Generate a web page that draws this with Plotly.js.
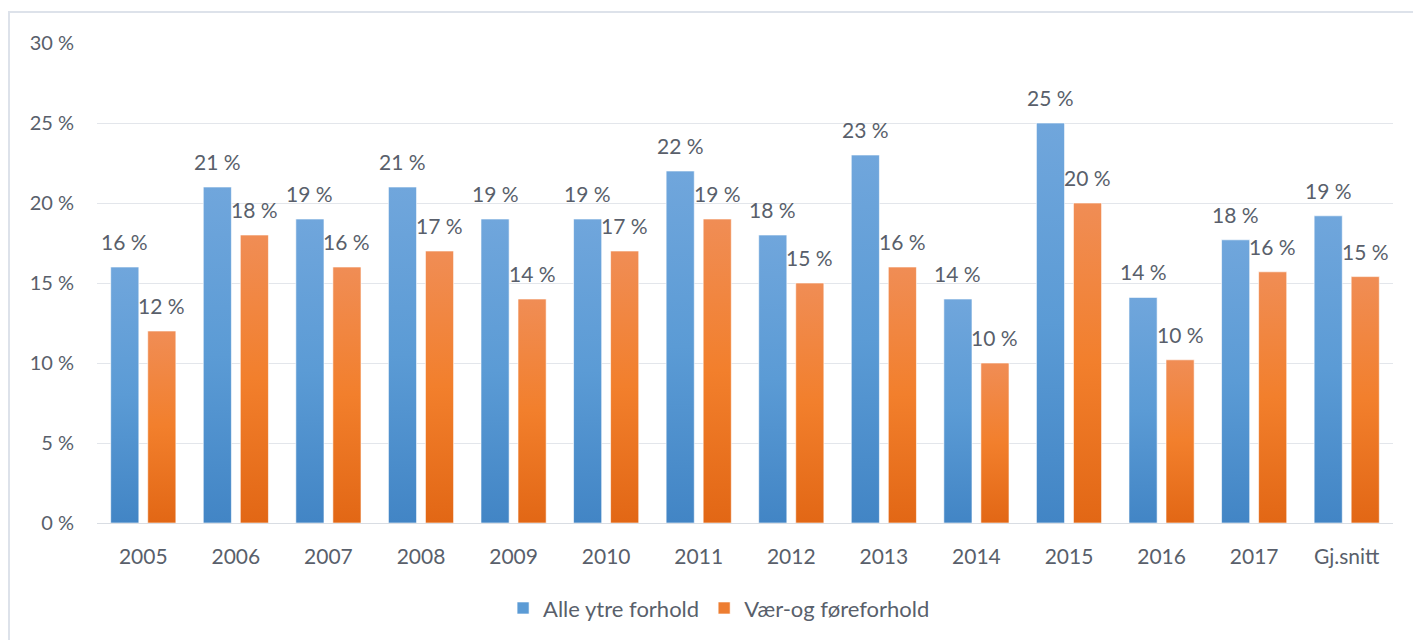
<!DOCTYPE html>
<html><head><meta charset="utf-8">
<script src="https://cdn.plot.ly/plotly-3.0.1.min.js"></script>
<style>html,body{margin:0;padding:0;background:#fff;}#chart{width:1413px;height:640px;}</style>
</head><body><div id="chart"></div>
<script>
const categories = ["2005","2006","2007","2008","2009","2010","2011","2012","2013","2014","2015","2016","2017","Gj.snitt"];
const alleYtre = [16, 21, 19, 21, 19, 19, 22, 18, 23, 14, 25, 14.1, 17.7, 19.2];
const vaerFore = [12, 18, 16, 17, 14, 17, 19, 15, 16, 10, 20, 10.2, 15.7, 15.4];
const seriesNames = ["Alle ytre forhold", "Vær-og føreforhold"];

const textColor = "#595f6b";
const fontFam = "Lato, 'Open Sans', sans-serif";

const traces = [
  {type:"bar", name:seriesNames[0], x:categories, y:alleYtre,
   marker:{color:"#5b9bd5", line:{color:"rgba(255,255,255,0.6)", width:1}}, hoverinfo:"none"},
  {type:"bar", name:seriesNames[1], x:categories, y:vaerFore,
   marker:{color:"#ed7d31", line:{color:"rgba(255,255,255,0.6)", width:1}}, hoverinfo:"none"}
];

const annotations = [];
[alleYtre, vaerFore].forEach((arr, si) => {
  arr.forEach((v, i) => {
    annotations.push({x:i, y:v, xref:"x", yref:"y", text: Math.round(v) + " %",
      showarrow:false, yanchor:"bottom", xanchor:"center", yshift:11, xshift: si===0 ? -18.5 : 18.5,
      font:{family:fontFam, size:21, color:textColor}});
  });
});

const layout = {
  width:1413, height:640,
  margin:{l:97, r:20, t:43, b:116},
  paper_bgcolor:"#fff", plot_bgcolor:"#fff",
  barmode:"group", bargap:0.2, bargroupgap:0.24,
  font:{family:fontFam, color:textColor},
  xaxis:{type:"category", tickfont:{size:21, family:fontFam, color:textColor}, showgrid:false, zeroline:false,
    showline:true, linecolor:"#d9dde3", linewidth:1, ticks:"", ticklabelstandoff:15, fixedrange:true},
  yaxis:{range:[0,30], dtick:5, ticksuffix:" %", tickfont:{size:20, family:fontFam, color:textColor},
    gridcolor:"#e3e6eb", gridwidth:1, zeroline:false, showline:false, ticks:"", ticklabelstandoff:22, fixedrange:true},
  showlegend:true,
  legend:{orientation:"h", x:0.48, xanchor:"center", y:-0.175, yanchor:"middle",
    font:{size:22, family:fontFam, color:textColor}, itemwidth:30, tracegroupgap:0},
  annotations: annotations,
  shapes:[{type:"rect", xref:"paper", yref:"paper", x0:-0.0679, x1:1.03, y0:-0.3, y1:1.0644,
    line:{color:"#dde2ea", width:2}, fillcolor:"rgba(0,0,0,0)", layer:"below"}]
};

function addGradients(gd){
  const svg = gd.querySelector("svg.main-svg");
  if(!svg) return;
  let defs = svg.querySelector("defs#custgrad");
  if(!defs){
    defs = document.createElementNS("http://www.w3.org/2000/svg","defs");
    defs.setAttribute("id","custgrad");
    defs.innerHTML =
      '<linearGradient id="gBlue" x1="0" y1="0" x2="0" y2="1"><stop offset="0" stop-color="#70a6dc"/><stop offset="0.5" stop-color="#5b9bd5"/><stop offset="1" stop-color="#4285c5"/></linearGradient>' +
      '<linearGradient id="gOrange" x1="0" y1="0" x2="0" y2="1"><stop offset="0" stop-color="#f08d55"/><stop offset="0.5" stop-color="#f27f2c"/><stop offset="1" stop-color="#e26715"/></linearGradient>';
    svg.insertBefore(defs, svg.firstChild);
  }
  const tr = gd.querySelectorAll(".barlayer .trace");
  tr.forEach((t, i) => {
    t.querySelectorAll("path").forEach(p => { p.style.fill = i===0 ? "url(#gBlue)" : "url(#gOrange)"; });
  });
}

const gd = document.getElementById("chart");
Plotly.newPlot(gd, traces, layout, {displayModeBar:false, staticPlot:true}).then(() => {
  addGradients(gd);
  gd.on && gd.on("plotly_afterplot", () => addGradients(gd));
});
</script></body></html>
